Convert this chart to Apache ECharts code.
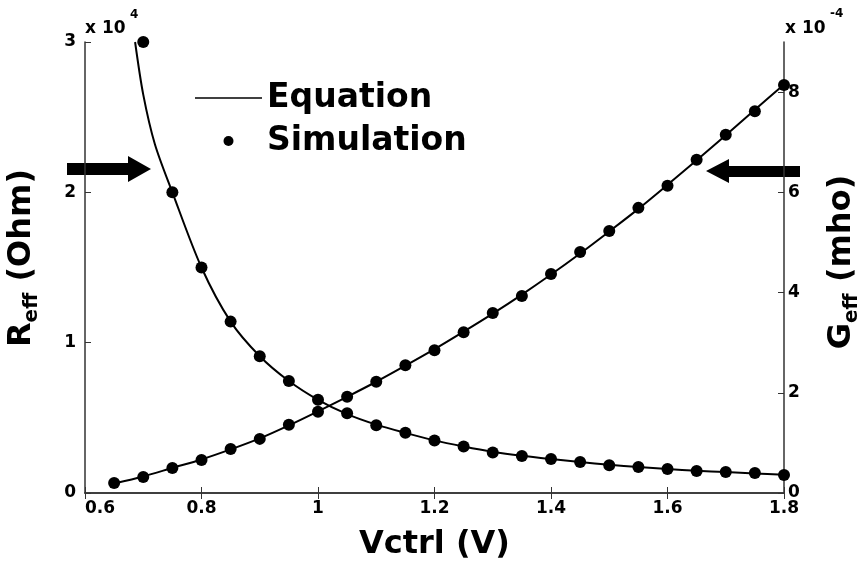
<!DOCTYPE html>
<html>
<head>
<meta charset="utf-8">
<script src="https://cdn.jsdelivr.net/npm/echarts@6.0.0/dist/echarts.min.js"></script>
<style>
  html, body { margin: 0; padding: 0; background: #fff; }
  #chart { width: 864px; height: 569px; }
</style>
</head>
<body>
<div id="chart"></div>
<script>
// Vctrl of the simulation points (V)
const vSim = [0.65, 0.70, 0.75, 0.80, 0.85, 0.90, 0.95, 1.00, 1.05, 1.10, 1.15, 1.20,
  1.25, 1.30, 1.35, 1.40, 1.45, 1.50, 1.55, 1.60, 1.65, 1.70, 1.75, 1.80]
// simulated Reff (Ohm), first point is off the chart
const rSim = [null, 30000, 20000, 15000, 11400, 9100, 7450, 6200, 5300, 4500, 4000, 3500,
  3100, 2700, 2460, 2260, 2060, 1850, 1730, 1600, 1460, 1400, 1330, 1200]
// simulated Geff (mho)
const gSim = [0.20e-4, 0.32e-4, 0.50e-4, 0.66e-4, 0.88e-4, 1.08e-4, 1.36e-4, 1.62e-4, 1.92e-4, 2.22e-4, 2.55e-4, 2.85e-4,
  3.21e-4, 3.59e-4, 3.93e-4, 4.37e-4, 4.81e-4, 5.23e-4, 5.69e-4, 6.13e-4, 6.65e-4, 7.15e-4, 7.62e-4, 8.14e-4]

// equation curve for Reff
const vEqR = [0.686, 0.70, 0.72, 0.75, 0.80, 0.85, 0.90, 0.95, 1.00, 1.05, 1.10, 1.15, 1.20,
  1.25, 1.30, 1.35, 1.40, 1.45, 1.50, 1.55, 1.60, 1.65, 1.70, 1.75, 1.80]
const rEq = [30000, 26500, 23200, 20000, 15000, 11400, 9100, 7450, 6200, 5250, 4550, 4000, 3500,
  3100, 2750, 2480, 2260, 2060, 1880, 1730, 1600, 1480, 1390, 1300, 1220]
// equation curve for Geff
const vEqG = vSim
const gEq = [0.19e-4, 0.33e-4, 0.50e-4, 0.67e-4, 0.87e-4, 1.09e-4, 1.35e-4, 1.63e-4, 1.92e-4, 2.22e-4, 2.54e-4, 2.87e-4,
  3.22e-4, 3.58e-4, 3.96e-4, 4.36e-4, 4.78e-4, 5.22e-4, 5.67e-4, 6.15e-4, 6.64e-4, 7.14e-4, 7.65e-4, 8.15e-4]

// axis ranges
const xTicks = { min: 0.6, max: 1.8, interval: 0.2 }
const rTicks = { min: 0, max: 30000, interval: 10000 }
const gTicks = { min: 0, max: 9e-4, interval: 2e-4 }

const pairs = (xs, ys) => xs.map((x, i) => [x, ys[i]]).filter((p) => p[1] != null)

const FONT = 'DejaVu Sans'
const axisColor = '#333'
const tickLabel = { color: '#000', fontFamily: FONT, fontWeight: 'bold', fontSize: 17 }

const chart = echarts.init(document.getElementById('chart'))

const options = {
  backgroundColor: '#fff',
  animation: false,
  grid: { left: 85, right: 80, top: 42, bottom: 76, containLabel: false },
  legend: {
    data: [
      // plain line icon, no marker
      { name: 'Equation', icon: 'path://M0,0h67v1.6h-67z' },
      { name: 'Simulation', icon: 'circle' }
    ],
    orient: 'vertical',
    left: 195,
    top: 81,
    padding: 0,
    itemWidth: 67,
    itemHeight: 10,
    itemGap: 9,
    textStyle: { color: '#000', fontFamily: FONT, fontWeight: 'bold', fontSize: 33, lineHeight: 34 }
  },
  xAxis: [
    {
      type: 'value',
      ...xTicks,
      name: 'Vctrl (V)',
      nameLocation: 'middle',
      nameGap: 36,
      nameTextStyle: { color: '#000', fontFamily: FONT, fontWeight: 'bold', fontSize: 32 },
      axisLine: { lineStyle: { color: axisColor, width: 1.5 } },
      axisTick: { inside: true, length: 6, lineStyle: { color: axisColor } },
      axisLabel: { ...tickLabel, margin: 7, alignMinLabel: 'left' },
      splitLine: { show: false }
    },
    {
      // top frame
      type: 'value',
      position: 'top',
      ...xTicks,
      axisLine: { lineStyle: { color: axisColor, width: 1.5 } },
      axisTick: { inside: true, length: 6, lineStyle: { color: axisColor } },
      axisLabel: { show: false },
      splitLine: { show: false }
    }
  ],
  yAxis: [
    {
      type: 'value',
      position: 'left',
      ...rTicks,
      axisLine: { show: true, lineStyle: { color: axisColor, width: 1.5 } },
      axisTick: { show: true, inside: true, length: 6, lineStyle: { color: axisColor } },
      axisLabel: { ...tickLabel, margin: 9, formatter: (v) => String(Math.round(v / 1e4)) },
      splitLine: { show: false }
    },
    {
      type: 'value',
      position: 'right',
      ...gTicks,
      axisLine: { show: true, lineStyle: { color: axisColor, width: 1.5 } },
      axisTick: { show: true, inside: true, length: 6, lineStyle: { color: axisColor } },
      axisLabel: { ...tickLabel, margin: 4, showMaxLabel: false, formatter: (v) => String(Math.round(v / 1e-4)) },
      splitLine: { show: false }
    }
  ],
  series: [
    {
      name: 'Equation',
      type: 'line',
      yAxisIndex: 0,
      data: pairs(vEqR, rEq),
      symbol: 'none',
      smooth: 0.3,
      color: '#000',
      lineStyle: { color: '#000', width: 2 }
    },
    {
      name: 'Equation',
      type: 'line',
      yAxisIndex: 1,
      data: pairs(vEqG, gEq),
      symbol: 'none',
      smooth: 0.3,
      color: '#000',
      lineStyle: { color: '#000', width: 2 }
    },
    {
      name: 'Simulation',
      type: 'scatter',
      yAxisIndex: 0,
      data: pairs(vSim, rSim),
      symbol: 'circle',
      symbolSize: 12,
      itemStyle: { color: '#000', opacity: 1 }
    },
    {
      name: 'Simulation',
      type: 'scatter',
      yAxisIndex: 1,
      data: pairs(vSim, gSim),
      symbol: 'circle',
      symbolSize: 12,
      itemStyle: { color: '#000', opacity: 1 }
    }
  ],
  // exponents, axis names with subscripts and the two arrows
  graphic: [
    { type: 'text', left: 85, top: 20, style: { text: 'x 10', fill: '#000', font: `bold 17px "${FONT}"` } },
    { type: 'text', left: 130, top: 9, style: { text: '4', fill: '#000', font: `bold 12px "${FONT}"` } },
    { type: 'text', left: 785, top: 20, style: { text: 'x 10', fill: '#000', font: `bold 17px "${FONT}"` } },
    { type: 'text', left: 830, top: 8, style: { text: '-4', fill: '#000', font: `bold 12px "${FONT}"` } },
    {
      type: 'text',
      x: 22,
      y: 258,
      rotation: Math.PI / 2,
      style: {
        text: '{a|R}{b|eff}{a| (Ohm)}',
        align: 'center',
        verticalAlign: 'middle',
        rich: {
          a: { fill: '#000', fontFamily: FONT, fontWeight: 'bold', fontSize: 32, lineHeight: 40 },
          b: { fill: '#000', fontFamily: FONT, fontWeight: 'bold', fontSize: 20, lineHeight: 20, verticalAlign: 'bottom' }
        }
      }
    },
    {
      type: 'text',
      x: 842,
      y: 262,
      rotation: Math.PI / 2,
      style: {
        text: '{a|G}{b|eff}{a| (mho)}',
        align: 'center',
        verticalAlign: 'middle',
        rich: {
          a: { fill: '#000', fontFamily: FONT, fontWeight: 'bold', fontSize: 32, lineHeight: 40 },
          b: { fill: '#000', fontFamily: FONT, fontWeight: 'bold', fontSize: 20, lineHeight: 20, verticalAlign: 'bottom' }
        }
      }
    },
    {
      type: 'polygon',
      shape: { points: [[67, 163], [128, 163], [128, 156], [151, 169], [128, 182], [128, 175], [67, 175]] },
      style: { fill: '#000' }
    },
    {
      type: 'polygon',
      shape: { points: [[800, 166], [729, 166], [729, 159], [706, 171], [729, 183], [729, 177], [800, 177]] },
      style: { fill: '#000' }
    }
  ]
}

chart.setOption(options)
</script>
</body>
</html>
